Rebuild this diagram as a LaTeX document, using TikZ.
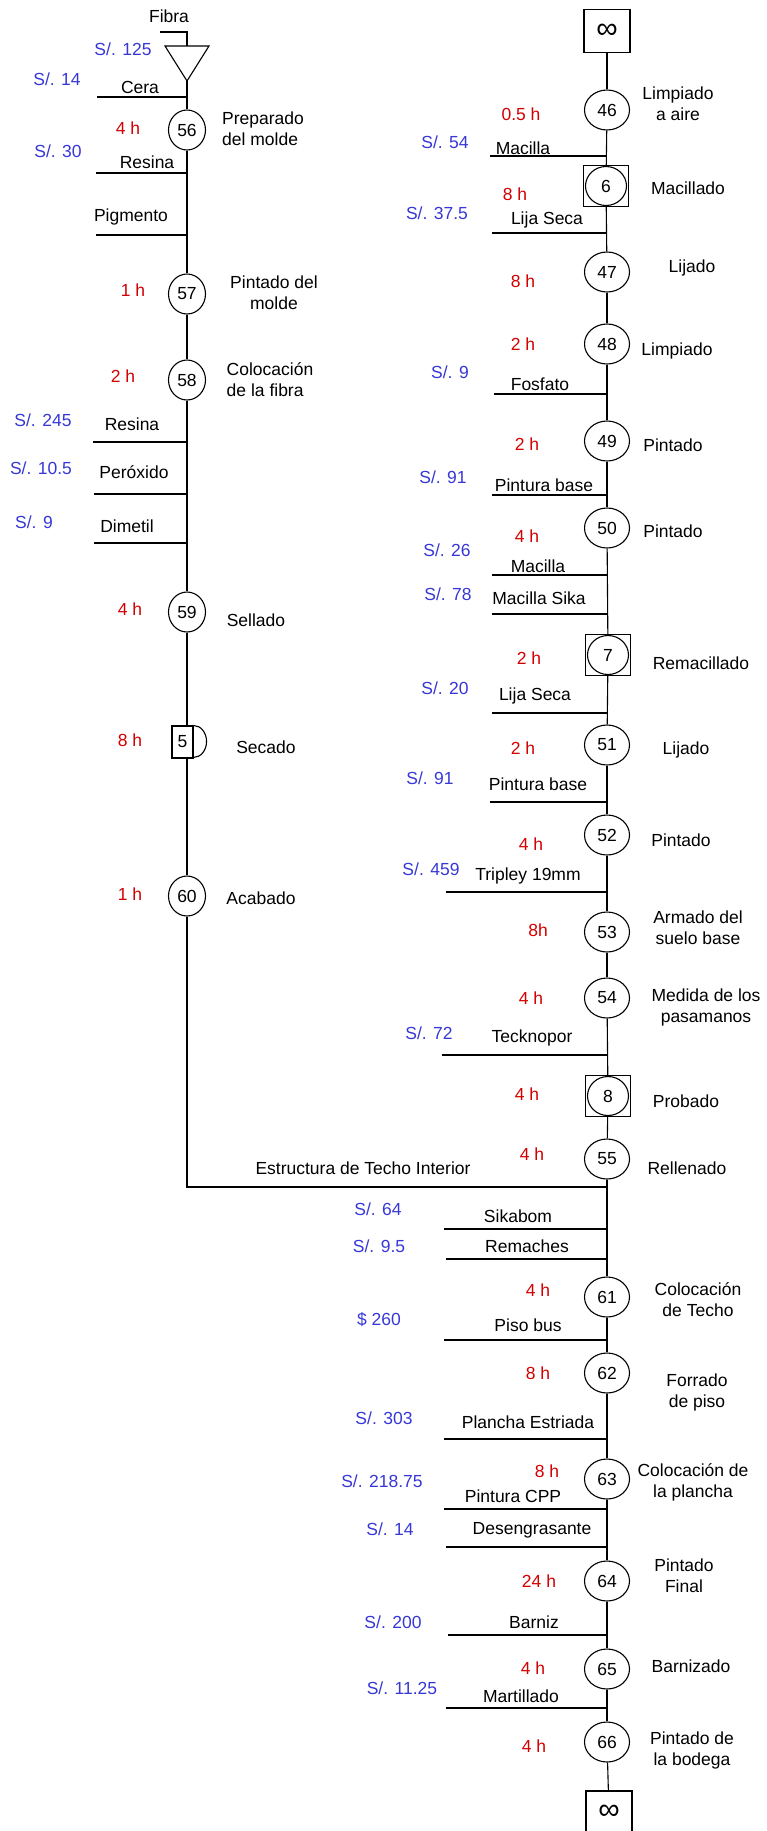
\documentclass[tikz,border=0pt]{standalone}
\usepackage{fontspec}
\setmainfont{Liberation Sans}
\usepackage{xcolor}
\usetikzlibrary{shapes.geometric}
\definecolor{hblue}{RGB}{55,55,215}
\definecolor{hred}{RGB}{210,0,0}
\newcommand{\lbl}{\fontsize{17.5}{21}\selectfont}

\begin{document}
\begin{tikzpicture}[
      x=1pt, y=-1pt,
      line width=1.1pt,
      every node/.style={font=\lbl, inner sep=1pt},
      opl/.style={draw, ellipse, minimum width=37pt, minimum height=40pt, inner sep=0pt},
      opr/.style={draw, ellipse, minimum width=45pt, minimum height=40pt, inner sep=0pt},
      opin/.style={draw, ellipse, minimum width=41pt, minimum height=39pt, inner sep=0pt},
      inspbox/.style={draw, rectangle, minimum width=45pt, minimum height=41pt, inner sep=0pt},
      endbox/.style={draw, rectangle, minimum width=46pt, minimum height=43pt, inner sep=0pt,
        font=\fontsize{30}{30}\selectfont},
      hrs/.style={text=hred},
      cost/.style={text=hblue},
      desc/.style={align=center},
    ]
      \useasboundingbox (0,0) rectangle (766,1831);
      \clip (0,0) rectangle (766,1831);

      % left column: storage of fibre
      \node (fibra) at (169,16) {Fibra};
      \node[cost] (s125) at (123,49) {S/. 125};
      \coordinate (fin) at (160,32);
      \coordinate (ttop) at (187,46);
      \coordinate (tl) at (165,46);
      \coordinate (tr) at (209,46);
      \coordinate (tap) at (187,81);
      \draw (fin) -| (ttop);
      \draw (tl) -- (tr) -- (tap) -- cycle;

      % left column operations
      \node[opl] (o56) at (187,130) {56};
      \node[hrs] (h56) at (128,128) {4 h};
      \node[align=left] (d56) at (263,129) {Preparado\\del molde};

      \node[opl] (o57) at (187,294) {57};
      \node[hrs] (h57) at (133,290) {1 h};
      \node[desc] (d57) at (274,293) {Pintado del\\molde};

      \node[opl] (o58) at (187,380) {58};
      \node[hrs] (h58) at (123,376) {2 h};
      \node[align=left] (d58) at (270,380) {Colocación\\de la fibra};

      \node[opl] (o59) at (187,612) {59};
      \node[hrs] (h59) at (130,609) {4 h};
      \node (d59) at (256,620) {Sellado};

      \node[draw, minimum width=21pt, minimum height=32pt, inner sep=0pt] (q5) at (182.5,742) {5};
      \draw (q5.north east) arc[start angle=90, end angle=-90, x radius=13pt, y radius=16pt];
      \node[hrs] (hq5) at (130,740) {8 h};
      \node (dq5) at (266,747) {Secado};

      \node[opl] (o60) at (187,896) {60};
      \node[hrs] (h60) at (130,894) {1 h};
      \node (d60) at (261,898) {Acabado};

      % left column connectors
      \draw (tap) -- (o56);
      \draw (o56) -- (o57);
      \draw (o57) -- (o58);
      \draw (o58) -- (o59);
      \draw (o59) -- (o59 |- q5.north);
      \draw (o60 |- q5.south) -- (o60);
      \coordinate (cor) at (187,1187);
      \coordinate (jn) at (607,1187);
      \draw (o60) -- (cor) -- (jn);
      \node (techo) at (363,1168) {Estructura de Techo Interior};

      % left column materials
      \foreach \y/\xl/\tx/\ty/\mat/\cx/\cy/\cst in {
          97/97/140/87/Cera/57/79/{S/. 14},
          173/96/147/162/Resina/58/151/{S/. 30},
          442/93/132/424/Resina/43/420/{S/. 245},
          494/94/134/472/Peróxido/41/468/{S/. 10.5},
          543/94/127/526/Dimetil/34/522/{S/. 9}}{
        \coordinate (a\y) at (\xl,\y);
        \coordinate (b\y) at (187,\y);
        \draw (a\y) -- (b\y);
        \node (t\y) at (\tx,\ty) {\mat};
        \node[cost] (s\y) at (\cx,\cy) {\cst};
      }
      \coordinate (a235) at (96,235);
      \coordinate (b235) at (187,235);
      \draw (a235) -- (b235);
      \node (t235) at (131,217) {Pigmento};

      % right column operations
      \node[endbox] (e1) at (607,31) {∞};

      \node[opr] (o46) at (607,110) {46};
      \node[hrs] (h46) at (521,114) {0.5 h};
      \node[desc] (d46) at (678,104) {Limpiado\\a aire};

      \node[inspbox] (b6) at (606,186) {};
      \node[opin] (o6) at (606,186) {6};
      \node[hrs] (h6) at (515,194) {8 h};
      \node (d6) at (688,188) {Macillado};

      \node[opr] (o47) at (607,272) {47};
      \node[hrs] (h47) at (523,281) {8 h};
      \node (d47) at (692,268) {Lijado};

      \node[opr] (o48) at (607,344) {48};
      \node[hrs] (h48) at (523,344) {2 h};
      \node (d48) at (677,351) {Limpiado};

      \node[opr] (o49) at (607,441) {49};
      \node[hrs] (h49) at (527,444) {2 h};
      \node (d49) at (673,445) {Pintado};

      \node[opr] (o50) at (607,528) {50};
      \node[hrs] (h50) at (527,536) {4 h};
      \node (d50) at (673,531) {Pintado};

      \node[inspbox] (b7) at (608,655) {};
      \node[opin] (o7) at (608,655) {7};
      \node[hrs] (h7) at (529,658) {2 h};
      \node (d7) at (701,663) {Remacillado};

      \node[opr] (o51) at (607,745) {51};
      \node[hrs] (h51) at (523,748) {2 h};
      \node (d51) at (686,750) {Lijado};

      \node[opr] (o52) at (607,835) {52};
      \node[hrs] (h52) at (531,844) {4 h};
      \node (d52) at (681,840) {Pintado};

      \node[opr] (o53) at (607,932) {53};
      \node[hrs] (h53) at (538,930) {8h};
      \node[desc] (d53) at (698,928) {Armado del\\suelo base};

      \node[opr] (o54) at (607,998) {54};
      \node[hrs] (h54) at (531,998) {4 h};
      \node[desc] (d54) at (706,1007) {Medida de los\\pasamanos};

      \node[inspbox] (b8) at (608,1096) {};
      \node[opin] (o8) at (608,1096) {8};
      \node[hrs] (h8) at (527,1094) {4 h};
      \node (d8) at (686,1101) {Probado};

      \node[opr] (o55) at (607,1159) {55};
      \node[hrs] (h55) at (532,1154) {4 h};
      \node (d55) at (687,1168) {Rellenado};

      \node[opr] (o61) at (607,1297) {61};
      \node[hrs] (h61) at (538,1290) {4 h};
      \node[desc] (d61) at (698,1300) {Colocación\\de Techo};

      \node[opr] (o62) at (607,1373) {62};
      \node[hrs] (h62) at (538,1373) {8 h};
      \node[desc] (d62) at (697,1392) {Forrado\\de piso};

      \node[opr] (o63) at (607,1479) {63};
      \node[hrs] (h63) at (547,1471) {8 h};
      \node[desc] (d63) at (693,1482) {Colocación de\\la plancha};

      \node[opr] (o64) at (607,1581) {64};
      \node[hrs] (h64) at (539,1581) {24 h};
      \node[desc] (d64) at (684,1576) {Pintado\\Final};

      \node[opr] (o65) at (607,1669) {65};
      \node[hrs] (h65) at (533,1668) {4 h};
      \node (d65) at (691,1666) {Barnizado};

      \node[opr] (o66) at (607,1742) {66};
      \node[hrs] (h66) at (534,1746) {4 h};
      \node[desc] (d66) at (692,1750) {Pintado de\\la bodega};

      \node[endbox] (e2) at (609,1812.5) {∞};

      % right column connectors
      \foreach \a/\b in {e1/o46, o46/b6, b6/o47, o47/o48, o48/o49, o49/o50,
          o50/b7, b7/o51, o51/o52, o52/o53, o53/o54, o54/b8, b8/o55,
          o55/o61, o61/o62, o62/o63, o63/o64, o64/o65, o65/o66, o66/e2}
        \draw (\a) -- (\b);

      % right column materials
      \foreach \y/\xl/\tx/\ty/\mat/\cx/\cy/\cst in {
          156/490/523/148/Macilla/445/142/{S/. 54},
          233/492/547/220/Lija Seca/437/213/{S/. 37.5},
          394/494/540/384/Fosfato/450/372/{S/. 9},
          495/492/544/485/Pintura base/443/477/{S/. 91},
          575/492/538/566/Macilla/447/550/{S/. 26},
          614/492/539/598/Macilla Sika/448/594/{S/. 78},
          713/492/535/696/Lija Seca/445/688/{S/. 20},
          802/490/538/784/Pintura base/430/778/{S/. 91},
          892/446/528/876/Tripley 19mm/431/869/{S/. 459},
          1055/442/532/1038/Tecknopor/429/1033/{S/. 72},
          1229/444/518/1216/Sikabom/378/1209/{S/. 64},
          1259/446/527/1246/Remaches/379/1246/{S/. 9.5},
          1340/444/528/1325/Piso bus/379/1320/{\$ 260},
          1439/444/528/1422/Plancha Estriada/384/1418/{S/. 303},
          1509/444/513/1496/Pintura CPP/382/1481/{S/. 218.75},
          1547/446/532/1530/Desengrasante/390/1529/{S/. 14},
          1635/448/534/1622/Barniz/393/1622/{S/. 200},
          1708/446/521/1696/Martillado/402/1688/{S/. 11.25}}{
        \coordinate (a\y) at (\xl,\y);
        \coordinate (b\y) at (607,\y);
        \draw (a\y) -- (b\y);
        \node (t\y) at (\tx,\ty) {\mat};
        \node[cost] (s\y) at (\cx,\cy) {\cst};
      }
    \end{tikzpicture}
\end{document}
